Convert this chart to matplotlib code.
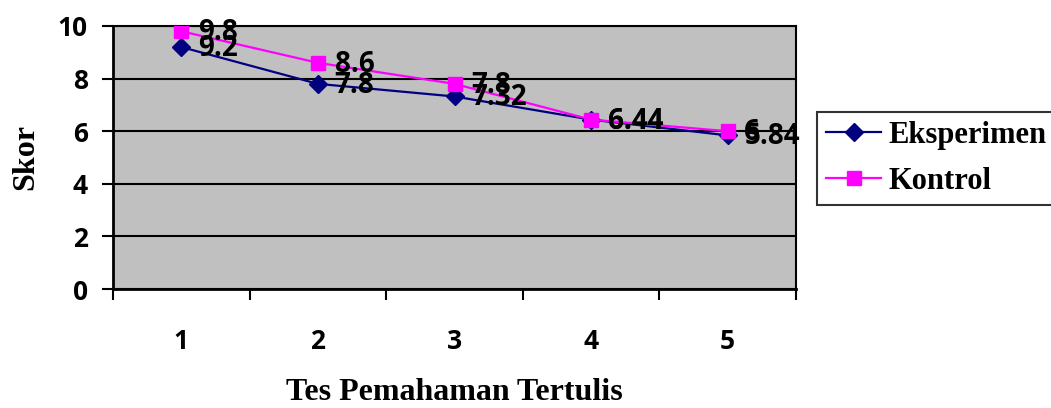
"""
plot.py
Skor tes pemahaman tertulis: eksperimen vs kontrol
"""

import matplotlib
matplotlib.use('Agg')
import matplotlib.pyplot as plt
from matplotlib.ticker import MultipleLocator, FixedLocator

# data
tes = [1, 2, 3, 4, 5]
eksperimen = [9.2, 7.8, 7.32, 6.44, 5.84]
kontrol = [9.8, 8.6, 7.8, 6.44, 6]
label_eks = ['9.2', '7.8', '7.32', '6.44', '5.84']
label_kon = ['9.8', '8.6', '7.8', '6.44', '6']

sans = 'Open Sans'
serif = 'Liberation Serif'

fig = plt.figure(figsize=(10.51, 4.08), dpi=100)
ax = fig.add_axes([113/1051, 1-289/408, (796-113)/1051, (289-26)/408])
ax.set_facecolor('#C0C0C0')

# gridlines
ax.set_ylim(0, 10)
ax.set_xlim(0.5, 5.5)
ax.yaxis.set_major_locator(MultipleLocator(2))
ax.grid(axis='y', color='black', linewidth=1.5)
ax.set_axisbelow(True)

# lines
ax.plot(tes, eksperimen, color='#000080', marker='D', markersize=9.5,
        linewidth=1.6, label='Eksperimen', zorder=3)
ax.plot(tes, kontrol, color='#FF00FF', marker='s', markersize=10,
        linewidth=1.6, label='Kontrol', zorder=4)

# data labels
for x, y, t in zip(tes, eksperimen, label_eks):
    ax.annotate(t, (x, y), xytext=(12, -1), textcoords='offset points',
                ha='left', va='center', fontsize=20, fontweight='bold',
                family=sans, zorder=5)
for x, y, t in zip(tes, kontrol, label_kon):
    ax.annotate(t, (x, y), xytext=(12, -1), textcoords='offset points',
                ha='left', va='center', fontsize=20, fontweight='bold',
                family=sans, zorder=5)

# ticks
ax.set_xticks(tes)
ax.xaxis.set_minor_locator(FixedLocator([0.5, 1.5, 2.5, 3.5, 4.5, 5.5]))
ax.tick_params(axis='x', which='major', length=0, pad=28)
ax.tick_params(axis='x', which='minor', length=8, width=1.5, direction='out')
ax.tick_params(axis='y', length=8, width=1.5, direction='out', pad=10)
for lab in ax.get_xticklabels() + ax.get_yticklabels():
    lab.set_fontfamily(sans)
    lab.set_fontweight('bold')
    lab.set_fontsize(19)

for s in ['left', 'bottom']:
    ax.spines[s].set_linewidth(2)
for s in ['top', 'right']:
    ax.spines[s].set_linewidth(1.5)

ax.set_xlabel('Tes Pemahaman Tertulis', family=serif, fontweight='bold',
              fontsize=23, labelpad=17)
ax.set_ylabel('Skor', family=serif, fontweight='bold', fontsize=23, labelpad=13)

leg = fig.legend(loc='upper left', bbox_to_anchor=(817/1051, 1-112/408),
                 prop={'family': serif, 'weight': 'bold', 'size': 22},
                 frameon=True, fancybox=False, edgecolor='black',
                 handlelength=1.8, handletextpad=0.25, borderpad=0.3,
                 labelspacing=0.55, borderaxespad=0)
leg.get_frame().set_linewidth(1.5)

fig.savefig('out.png', dpi=100)
